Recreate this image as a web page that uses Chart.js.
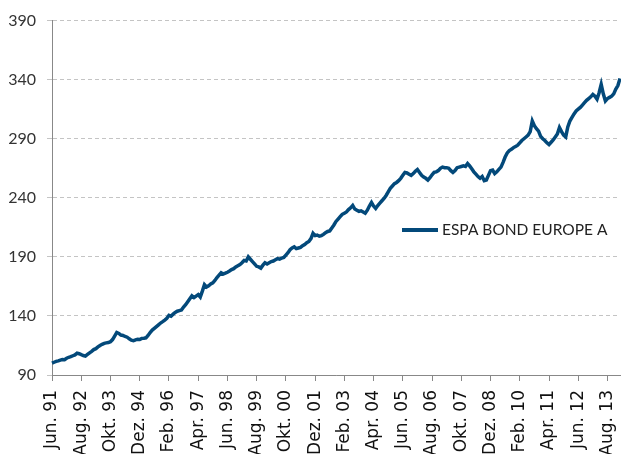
<!DOCTYPE html>
<html>
<head>
<meta charset="utf-8">
<script src="https://cdn.jsdelivr.net/npm/chart.js@4"></script>
<style>
  html, body { margin: 0; padding: 0; background: #fff; }
  #wrap { width: 621px; height: 454px; }
</style>
</head>
<body>
<div id="wrap"><canvas id="fundChart" width="621" height="454"></canvas></div>
<script>
// monthly values, Jun. 1991 .. Feb. 2014
var seriesName = "ESPA BOND EUROPE A";
var monthNames = ["Jan.", "Feb.", "Mrz.", "Apr.", "Mai.", "Jun.", "Jul.", "Aug.", "Sep.", "Okt.", "Nov.", "Dez."];
var startYear = 1991, startMonth = 5;

var values = [
  100.0, 100.8, 101.5, 102.0, 102.6, 103.1, 103.0, 104.2, 105.0, 105.5, 106.3, 107.0,
  108.5, 108.0, 107.2, 106.5, 106.0, 107.4, 108.8, 110.0, 111.5, 112.3, 113.8, 115.0,
  116.0, 116.8, 117.2, 117.5, 118.2, 120.0, 123.0, 126.0, 125.2, 123.8, 123.5, 122.6,
  122.0, 120.6, 119.5, 119.0, 119.8, 120.2, 120.0, 121.0, 121.2, 121.5, 123.5, 126.0,
  128.0, 129.5, 131.0, 132.5, 134.0, 135.2, 136.5, 138.0, 140.5, 139.8, 141.5, 143.0,
  144.0, 144.5, 145.0, 147.5, 149.5, 152.0, 154.5, 157.0, 155.5, 156.8, 158.0, 156.0,
  161.0, 166.5, 164.5, 165.5, 167.0, 168.0, 170.0, 172.5, 174.5, 176.5, 175.5, 176.2,
  177.0, 178.0, 179.2, 180.0, 181.5, 182.5, 183.5, 185.0, 187.0, 186.5, 190.0, 188.0,
  186.0, 184.0, 182.0, 181.5, 180.5, 183.0, 185.0, 184.0, 185.0, 186.0, 186.5, 187.5,
  188.5, 188.0, 189.0, 189.5, 191.5, 193.5, 196.0, 197.5, 198.5, 197.0, 197.5, 198.0,
  199.5, 200.5, 202.0, 203.0, 205.5, 210.0, 208.0, 208.5, 207.5, 208.0, 209.0, 210.5,
  211.5, 212.0, 214.5, 217.0, 220.0, 222.0, 224.0, 226.0, 227.0, 228.0, 230.0, 231.5,
  233.5, 230.5, 229.5, 228.5, 229.0, 228.0, 227.0, 229.5, 233.0, 236.0, 233.0, 231.0,
  233.5, 235.5, 237.5, 239.5, 242.0, 245.0, 248.0, 250.0, 252.0, 253.0, 254.5, 256.5,
  259.0, 261.5, 261.0, 260.0, 259.0, 260.5, 262.5, 264.0, 261.5, 259.0, 257.5, 256.5,
  255.0, 257.0, 259.5, 261.5, 262.0, 263.0, 265.0, 266.0, 265.5, 265.5, 265.0, 263.0,
  261.5, 263.0, 265.5, 266.0, 266.5, 267.0, 266.5, 269.0, 267.0, 264.5, 262.0, 260.0,
  258.0, 256.5, 258.0, 254.5, 255.0, 259.0, 263.0, 263.5, 260.5, 262.0, 264.0, 266.0,
  270.0, 274.5, 278.0, 280.0, 281.0, 282.5, 283.5, 284.5, 286.5, 288.5, 290.0, 291.5,
  293.0, 296.0, 305.0, 301.0, 298.5, 296.5, 292.0, 290.0, 288.5, 286.5, 285.0, 287.0,
  289.0, 291.5, 294.0, 299.5, 296.0, 293.0, 291.5, 300.0, 305.0, 308.0, 311.0, 313.5,
  315.0, 316.5, 318.5, 320.5, 322.5, 324.0, 325.5, 327.5, 326.0, 323.5, 329.0, 336.0,
  328.0, 322.0, 324.0, 325.0, 326.0, 328.0, 332.0, 335.0, 341.0
];

var tickLabels = ["Jun. 91", "Aug. 92", "Okt. 93", "Dez. 94", "Feb. 96", "Apr. 97", "Jun. 98",
  "Aug. 99", "Okt. 00", "Dez. 01", "Feb. 03", "Apr. 04", "Jun. 05", "Aug. 06", "Okt. 07",
  "Dez. 08", "Feb. 10", "Apr. 11", "Jun. 12", "Aug. 13"];

var yMin = 90, yMax = 390, yStep = 50;

// month categories
var categories = [];
for (var i = 0; i < values.length; i++) {
  var m = (startMonth + i) % 12;
  var y = startYear + Math.floor((startMonth + i) / 12);
  categories.push(monthNames[m] + " " + String(y).slice(2));
}

var lineColor = "#03497a";

var insideLegend = {
  id: "insideLegend",
  afterDraw: function (chart) {
    var ctx = chart.ctx;
    ctx.save();
    ctx.strokeStyle = lineColor;
    ctx.lineWidth = 4;
    ctx.beginPath();
    ctx.moveTo(402, 230);
    ctx.lineTo(438, 230);
    ctx.stroke();
    ctx.fillStyle = "#222";
    ctx.font = "15.5px Lato";
    ctx.textBaseline = "middle";
    ctx.fillText(chart.data.datasets[0].label, 442, 230);
    ctx.restore();
  }
};

var config = {
  type: "line",
  data: {
    labels: categories,
    datasets: [
      {
        label: seriesName,
        data: values,
        borderColor: lineColor,
        borderWidth: 3.5,
        pointRadius: 0,
        tension: 0,
        fill: false,
      },
    ],
  },
  options: {
    responsive: false,
    animation: false,
    layout: { padding: { top: 14, right: 1, left: 0, bottom: 0 } },
    plugins: {
      legend: { display: false },
      tooltip: { enabled: false },
    },
    scales: {
      x: {
        afterFit: function (s) {
          s.height = 79;
          s.paddingLeft = 0;
          s.paddingRight = 0;
        },
        grid: {
          drawOnChartArea: false,
          drawTicks: true,
          tickLength: 6,
          tickColor: "#888",
        },
        border: { color: "#888", width: 1 },
        ticks: {
          autoSkip: false,
          maxRotation: 90,
          minRotation: 90,
          padding: 9,
          color: "#111",
          font: { family: "DejaVu Sans", size: 17 },
          callback: function (v, idx) {
            var lab = categories[idx];
            return tickLabels.indexOf(lab) >= 0 ? lab : null;
          },
        },
      },
      y: {
        min: yMin,
        max: yMax,
        afterFit: function (s) { s.width = 52; },
        grid: { color: "#c4c4c4", tickLength: 5, lineWidth: 1 },
        border: { color: "#888", width: 1, dash: [4, 3] },
        ticks: {
          stepSize: yStep,
          padding: 11,
          color: "#333",
          font: { family: "Lato", size: 16 },
        },
      },
    },
  },
  plugins: [insideLegend],
};

var fundChart = new Chart(document.getElementById("fundChart"), config);
</script>
</body>
</html>
